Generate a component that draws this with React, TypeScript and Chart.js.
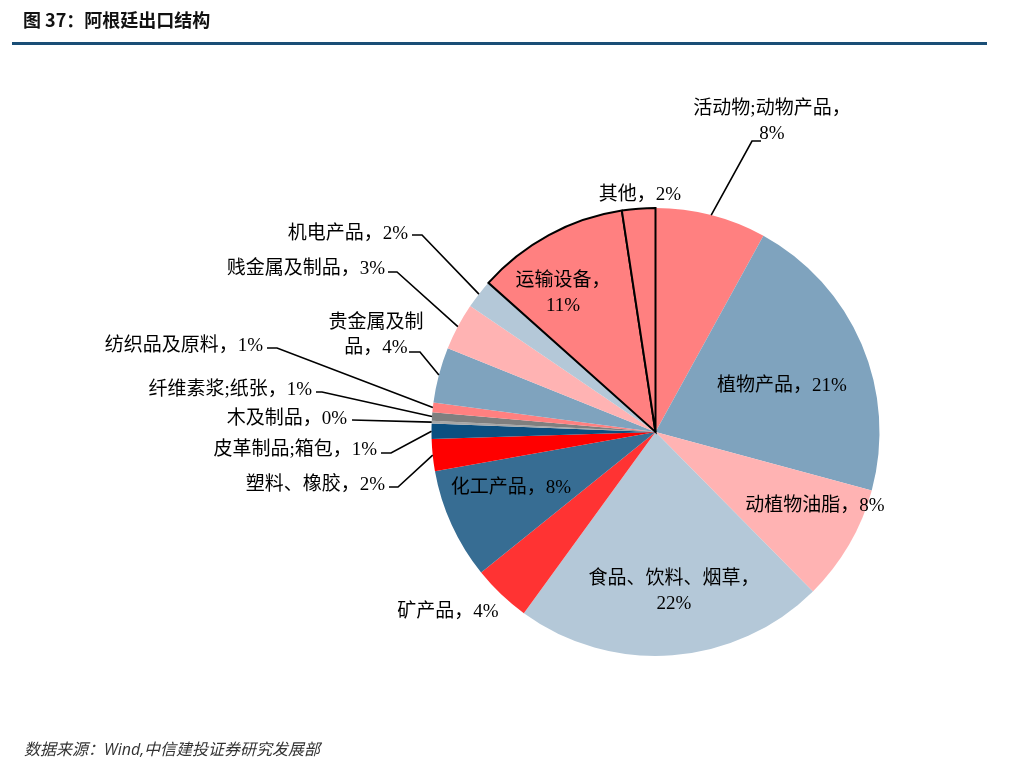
import React, { useEffect, useRef } from "react";
import { Chart, registerables } from "chart.js";

Chart.register(...registerables);

// ---- data ----
const CATEGORIES: string[] = [
  "活动物;动物产品",
  "植物产品",
  "动植物油脂",
  "食品、饮料、烟草",
  "矿产品",
  "化工产品",
  "塑料、橡胶",
  "皮革制品;箱包",
  "木及制品",
  "纤维素浆;纸张",
  "纺织品及原料",
  "贵金属及制品",
  "贱金属及制品",
  "机电产品",
  "运输设备",
  "其他",
];

const VALUES: number[] = [8.0, 21.2, 8.4, 22.4, 4.2, 8.0, 2.3, 1.1, 0.2, 0.6, 0.7, 4.0, 3.4, 2.1, 11.0, 2.4];

// ---- styles ----
const COLORS: string[] = [
  "#FF8080",
  "#7FA3BE",
  "#FFB3B3",
  "#B4C8D8",
  "#FF3333",
  "#376D93",
  "#FF0000",
  "#0B4F80",
  "#A6A6A6",
  "#7F7F7F",
  "#FF8080",
  "#7FA3BE",
  "#FFB3B3",
  "#B4C8D8",
  "#FF8080",
  "#FF8080",
];
const BORDER_WIDTHS: number[] = [0, 0, 0, 0, 0, 0, 0, 0, 0, 0, 0, 0, 0, 0, 2, 2];

const LABEL_FONT = '19px "Liberation Serif", "Noto Sans CJK SC", serif';
const LINE_H = 25;
const TEXT_DY = 2;

type Leader = { y: number; x1: number; x2: number };
type Lay = { x: number; y: number; align: CanvasTextAlign; breakAt?: number; leader?: Leader };

// label layout (pixel positions of label text and leader elbows)
const LABEL_LAYOUT: Lay[] = [
  { x: 772, y: 107, align: "center", breakAt: 9, leader: { y: 141, x1: 761, x2: 752 } },
  { x: 782, y: 384, align: "center" },
  { x: 815, y: 504, align: "center" },
  { x: 674, y: 577, align: "center", breakAt: 9 },
  { x: 448, y: 610, align: "center" },
  { x: 511, y: 486, align: "center" },
  { x: 385, y: 483, align: "right", leader: { y: 487, x1: 389, x2: 398 } },
  { x: 377, y: 448, align: "right", leader: { y: 453, x1: 381, x2: 391 } },
  { x: 347, y: 417, align: "right", leader: { y: 420, x1: 352, x2: 352 } },
  { x: 312, y: 388, align: "right", leader: { y: 392, x1: 316, x2: 322 } },
  { x: 263, y: 344, align: "right", leader: { y: 348, x1: 267, x2: 277 } },
  { x: 376, y: 321, align: "center", breakAt: 5, leader: { y: 352, x1: 409, x2: 420 } },
  { x: 385, y: 267, align: "right", leader: { y: 272, x1: 388, x2: 397 } },
  { x: 408, y: 232, align: "right", leader: { y: 235, x1: 412, x2: 422 } },
  { x: 563, y: 279, align: "center", breakAt: 5 },
  { x: 640, y: 193, align: "center" },
];

const labelPlugin = {
  id: "sliceLabels",
  afterDatasetsDraw(chart: any) {
    const ctx: CanvasRenderingContext2D = chart.ctx;
    const meta = chart.getDatasetMeta(0);
    ctx.save();
    ctx.font = LABEL_FONT;
    ctx.fillStyle = "#000";
    ctx.strokeStyle = "#000";
    ctx.lineWidth = 1.6;
    ctx.textBaseline = "middle";
    meta.data.forEach((arc: any, i: number) => {
      const lay = LABEL_LAYOUT[i];
      if (!lay) return;
      const p = arc.getProps(["x", "y", "startAngle", "endAngle", "outerRadius"], true);
      const text = `${CATEGORIES[i]}，${Math.round(VALUES[i])}%`;
      const lines = lay.breakAt ? [text.slice(0, lay.breakAt), text.slice(lay.breakAt)] : [text];
      ctx.textAlign = lay.align;
      lines.forEach((ln, k) => ctx.fillText(ln, lay.x, lay.y + TEXT_DY + k * LINE_H));
      if (lay.leader) {
        const mid = (p.startAngle + p.endAngle) / 2;
        const px = p.x + Math.cos(mid) * p.outerRadius;
        const py = p.y + Math.sin(mid) * p.outerRadius;
        ctx.beginPath();
        ctx.moveTo(lay.leader.x1, lay.leader.y);
        ctx.lineTo(lay.leader.x2, lay.leader.y);
        ctx.lineTo(px, py);
        ctx.stroke();
      }
    });
    ctx.restore();
  },
};

export default function App() {
  const ref = useRef<HTMLCanvasElement | null>(null);
  useEffect(() => {
    if (!ref.current) return;
    const chart = new Chart(ref.current, {
      type: "pie",
      data: {
        labels: CATEGORIES,
        datasets: [
          {
            data: VALUES,
            backgroundColor: COLORS,
            borderColor: "#000",
            borderWidth: BORDER_WIDTHS,
            borderJoinStyle: "miter",
          } as any,
        ],
      },
      options: {
        responsive: false,
        animation: false,
        layout: { padding: { left: 430, right: 144, top: 207, bottom: 111 } },
        plugins: {
          legend: { display: false },
          tooltip: { enabled: false },
        },
      },
      plugins: [labelPlugin],
    });
    return () => chart.destroy();
  }, []);

  return (
    <div
      style={{
        position: "absolute",
        left: 0,
        top: 0,
        width: 1025,
        height: 768,
        overflow: "hidden",
        background: "#fff",
      }}
    >
      <canvas ref={ref} width={1025} height={768} style={{ position: "absolute", left: 0, top: 0 }} />
      <div
        style={{
          position: "absolute",
          left: 23,
          top: 10,
          fontFamily: '"Noto Sans CJK SC", sans-serif',
          fontWeight: "bold",
          fontSize: 18,
          lineHeight: "18px",
          color: "#111",
          whiteSpace: "nowrap",
        }}
      >
        图 37：阿根廷出口结构
      </div>
      <div
        style={{
          position: "absolute",
          left: 12,
          top: 42,
          width: 975,
          height: 3,
          background: "#1A4E76",
        }}
      />
      <div
        style={{
          position: "absolute",
          left: 24,
          top: 739,
          fontFamily: '"Open Sans", "Noto Sans CJK SC", sans-serif',
          fontStyle: "italic",
          fontSize: 16,
          lineHeight: "20px",
          color: "#333",
          whiteSpace: "nowrap",
        }}
      >
        数据来源：Wind,中信建投证券研究发展部
      </div>
    </div>
  );
}
